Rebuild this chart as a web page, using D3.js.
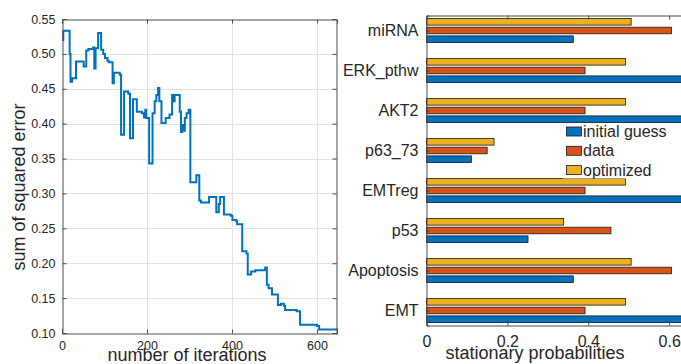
<!DOCTYPE html>
<html>
<head>
<meta charset="utf-8">
<script src="https://cdn.jsdelivr.net/npm/d3@7"></script>
<style>
body { margin: 0; background: #fff; }
text { font-family: "Liberation Sans", Arial, sans-serif; fill: #262626; }
</style>
</head>
<body>
<div id="chart"></div>
<script>
// left panel: error vs iteration (value holds until next breakpoint)
var iterations = [0, 3, 18, 20, 24, 33, 51, 57, 62, 73, 76, 79, 85, 92, 97, 101, 107, 110, 119, 122,
    136, 139, 146, 156, 160, 167, 176, 188, 193, 196, 198, 205, 213, 218, 222, 226, 229, 234, 244, 253,
    259, 262, 265, 277, 280, 283, 285, 289, 293, 298, 302, 316, 323, 327, 346, 363, 369, 372, 381, 397,
    401, 410, 412, 424, 434, 437, 445, 455, 478, 482, 486, 494, 508, 515, 522, 525, 552, 560, 600, 605, 647];
var sse = [0.520, 0.533, 0.500, 0.460, 0.465, 0.489, 0.482, 0.505, 0.507, 0.509, 0.479, 0.508, 0.530, 0.506, 0.500, 0.494, 0.490, 0.488, 0.458, 0.473,
    0.470, 0.384, 0.446, 0.443, 0.379, 0.435, 0.417, 0.415, 0.409, 0.420, 0.408, 0.343, 0.415, 0.432, 0.441, 0.451, 0.432, 0.401, 0.408, 0.413,
    0.441, 0.432, 0.441, 0.417, 0.388, 0.398, 0.390, 0.408, 0.415, 0.420, 0.316, 0.326, 0.290, 0.287, 0.295, 0.273, 0.285, 0.295, 0.270, 0.268,
    0.262, 0.260, 0.256, 0.217, 0.214, 0.184, 0.188, 0.190, 0.194, 0.169, 0.164, 0.155, 0.140, 0.142, 0.139, 0.133, 0.131, 0.112, 0.110, 0.105, 0.104];
var iterTicks = [0, 200, 400, 600];
var sseTicks = [0.1, 0.15, 0.2, 0.25, 0.3, 0.35, 0.4, 0.45, 0.5, 0.55];

// right panel: stationary probabilities (bottom to top)
var categories = ["EMT", "Apoptosis", "p53", "EMTreg", "p63_73", "AKT2", "ERK_pthw", "miRNA"];
var initialGuess = [0.70, 0.363, 0.251, 0.70, 0.111, 0.70, 0.70, 0.363];
var dataProb = [0.392, 0.606, 0.456, 0.392, 0.150, 0.392, 0.392, 0.606];
var optimized = [0.492, 0.506, 0.339, 0.492, 0.167, 0.492, 0.492, 0.506];
var probTicks = [0, 0.2, 0.4, 0.6];
var seriesNames = ["initial guess", "data", "optimized"];
var seriesColors = ["#0072BD", "#D95319", "#EDB120"];

function init(){
    var w = 681;
    var h = 364;
    var svg = d3.select("#chart")
                .append("svg")
                .attr("width", w)
                .attr("height", h);

    // ---------- left ----------
    var xScale = d3.scaleLinear().domain([0, 647]).range([62, 337]);
    var yScale = d3.scaleLinear().domain([0.1, 0.55]).range([333, 19]);

    // grid
    svg.append("g").selectAll("line").data(iterTicks.slice(1)).enter()
        .append("line")
        .attr("x1", function(d){ return Math.round(xScale(d)) + 0.5; })
        .attr("x2", function(d){ return Math.round(xScale(d)) + 0.5; })
        .attr("y1", 19).attr("y2", 333)
        .attr("stroke", "#e2e2e2");
    svg.append("g").selectAll("line").data(sseTicks.slice(1, -1)).enter()
        .append("line")
        .attr("y1", function(d){ return Math.round(yScale(d)) + 0.5; })
        .attr("y2", function(d){ return Math.round(yScale(d)) + 0.5; })
        .attr("x1", 62).attr("x2", 337)
        .attr("stroke", "#e2e2e2");

    var line = d3.line()
        .x(function(d, i){ return xScale(iterations[i]); })
        .y(function(d){ return yScale(d); })
        .curve(d3.curveStepAfter);

    svg.append("path")
        .datum(sse)
        .attr("d", line)
        .attr("fill", "none")
        .attr("stroke", "#0072BD")
        .attr("stroke-width", 2);

    var xAxis = d3.axisBottom(xScale).tickValues(iterTicks).tickSize(-4).tickPadding(8);
    var yAxis = d3.axisLeft(yScale).tickValues(sseTicks).tickSize(-4).tickPadding(7);
    var gx = svg.append("g").attr("transform", "translate(0,333.5)").call(xAxis);
    var gy = svg.append("g").attr("transform", "translate(62.5,0)").call(yAxis);
    svg.append("g").attr("transform", "translate(0,19.5)")
        .call(d3.axisTop(xScale).tickValues(iterTicks).tickSize(-4).tickFormat(""));
    svg.append("g").attr("transform", "translate(336.5,0)")
        .call(d3.axisRight(yScale).tickValues(sseTicks).tickSize(-4).tickFormat(""));

    svg.append("text")
        .attr("x", 187).attr("y", 361)
        .attr("text-anchor", "middle")
        .attr("font-size", "18px")
        .text("number of iterations");
    svg.append("text")
        .attr("transform", "translate(25,187) rotate(-90)")
        .attr("text-anchor", "middle")
        .attr("font-size", "18px")
        .text("sum of squared error");

    // ---------- right ----------
    var pScale = d3.scaleLinear().domain([0, 0.63]).range([426.5, 681.3]);
    var cScale = d3.scaleLinear().domain([0.625, 8.375]).range([325.5, 15.5]);
    var sub = d3.scaleBand().domain(["optimized", "data", "initial guess"])
                .range([-12, 12]).paddingInner(0.24);

    var rows = categories.map(function(c, i){
        return {cat: c, pos: i + 1, vals: [initialGuess[i], dataProb[i], optimized[i]]};
    });

    var groups = svg.append("g").selectAll("g").data(rows).enter().append("g");
    groups.selectAll("rect")
        .data(function(d){
            return d.vals.map(function(v, k){ return {pos: d.pos, v: v, k: k}; });
        })
        .enter()
        .append("rect")
        .attr("x", pScale(0))
        .attr("y", function(d){ return cScale(d.pos) + sub(seriesNames[d.k]); })
        .attr("width", function(d){ return pScale(d.v) - pScale(0); })
        .attr("height", sub.bandwidth())
        .attr("fill", function(d){ return seriesColors[d.k]; })
        .attr("stroke", "#1a1a1a")
        .attr("stroke-width", 0.8);

    var pAxis = d3.axisBottom(pScale).tickValues(probTicks).tickSize(-4).tickPadding(10)
                .tickFormat(function(d){ return d === 0 ? "0" : d3.format(".1f")(d); });
    var cAxis = d3.axisLeft(cScale).tickValues(d3.range(1, categories.length + 1)).tickSize(-3).tickPadding(8)
                .tickFormat(function(d){ return categories[d - 1]; });
    var gp = svg.append("g").attr("transform", "translate(0,325.5)").call(pAxis);
    var gc = svg.append("g").attr("transform", "translate(426.5,0)").call(cAxis);
    svg.append("g").attr("transform", "translate(0,15.5)")
        .call(d3.axisTop(pScale).tickValues(probTicks).tickSize(-4).tickFormat(""));

    svg.append("text")
        .attr("x", 535).attr("y", 359)
        .attr("text-anchor", "middle")
        .attr("font-size", "18px")
        .text("stationary probabilities");

    // legend
    var leg = svg.append("g");
    leg.append("rect")
        .attr("x", 563).attr("y", 124.5)
        .attr("width", 130).attr("height", 54)
        .attr("fill", "#fff");
    seriesNames.forEach(function(s, k){
        var cy = 131.5 + k * 19.3;
        leg.append("rect")
            .attr("x", 566.5).attr("y", cy - 4.5)
            .attr("width", 15).attr("height", 9)
            .attr("fill", seriesColors[k])
            .attr("stroke", "#1a1a1a")
            .attr("stroke-width", 0.8);
        leg.append("text")
            .attr("x", 583).attr("y", cy)
            .attr("dy", "0.35em")
            .attr("font-size", "16px")
            .text(s);
    });

    // axis styling
    svg.selectAll(".domain").attr("stroke", "#4a4a4a");
    svg.selectAll(".tick line").attr("stroke", "#4a4a4a");
    gx.selectAll("text").attr("font-size", "12.5px").attr("fill", "#262626");
    gy.selectAll("text").attr("font-size", "12.5px").attr("fill", "#262626");
    gp.selectAll("text").attr("font-size", "16px").attr("fill", "#262626");
    gc.selectAll("text").attr("font-size", "16px").attr("fill", "#262626");
    svg.selectAll(".tick text").attr("font-family", "Liberation Sans, Arial, sans-serif");
}

window.onload = init;
</script>
</body>
</html>
